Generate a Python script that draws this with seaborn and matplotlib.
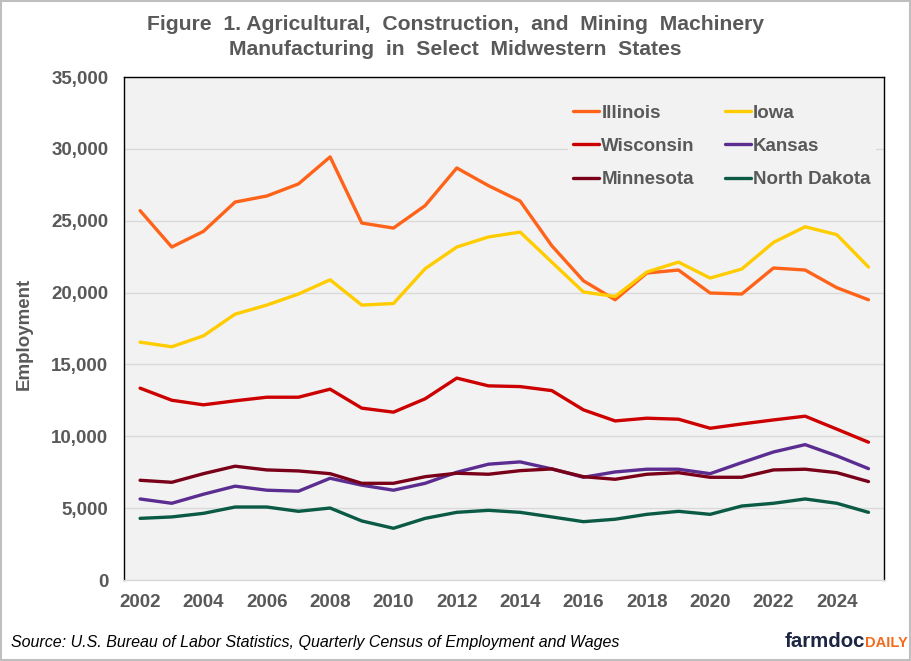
import numpy as np
import pandas as pd
import matplotlib
matplotlib.use("Agg")
import matplotlib.pyplot as plt
import seaborn as sns
from matplotlib.patches import Rectangle

years = list(range(2002, 2026))
illinois = [25700, 23170, 24260, 26300, 26720, 27560, 29440, 24840, 24490, 26050, 28670, 27440,
            26370, 23260, 20820, 19500, 21360, 21570, 19970, 19900, 21710, 21570, 20340, 19500]
iowa = [16550, 16230, 16990, 18500, 19130, 19900, 20890, 19130, 19240, 21660, 23170, 23870,
        24210, 22120, 20040, 19730, 21430, 22120, 21010, 21640, 23490, 24580, 24030, 21780]
wisconsin = [13350, 12510, 12190, 12470, 12720, 12720, 13280, 11960, 11680, 12610, 14050, 13510,
             13460, 13180, 11840, 11070, 11260, 11190, 10560, 10860, 11140, 11400, 10500, 9590]
kansas = [5640, 5340, 5970, 6530, 6250, 6180, 7080, 6600, 6250, 6730, 7500, 8060,
          8220, 7730, 7150, 7520, 7710, 7710, 7400, 8170, 8910, 9420, 8640, 7750]
minnesota = [6940, 6800, 7400, 7920, 7660, 7590, 7400, 6730, 6730, 7190, 7430, 7360,
             7610, 7730, 7190, 7010, 7360, 7470, 7150, 7150, 7660, 7710, 7470, 6850]
north_dakota = [4290, 4390, 4640, 5080, 5080, 4780, 5010, 4110, 3600, 4290, 4710, 4850,
                4710, 4390, 4060, 4230, 4570, 4780, 4570, 5150, 5340, 5640, 5340, 4710]

states = ["Illinois", "Iowa", "Wisconsin", "Kansas", "Minnesota", "North Dakota"]
colors = ["#FF6319", "#FFCC00", "#CC0000", "#5C2D91", "#7A0019", "#0B5A45"]
series = [illinois, iowa, wisconsin, kansas, minnesota, north_dakota]

df = pd.concat([pd.DataFrame({"Year": years, "Employment": s, "State": name})
                for name, s in zip(states, series)], ignore_index=True)

sns.set_theme(style="white")
plt.rcParams['font.family'] = ['Liberation Sans', 'DejaVu Sans']

gray = "#595959"
fig = plt.figure(figsize=(9.11, 6.61), dpi=100)
ax = fig.add_axes([0.1364, 0.1225, 0.8343, 0.761])
ax.set_facecolor("#F2F2F2")

sns.lineplot(data=df, x="Year", y="Employment", hue="State", hue_order=states,
             palette=dict(zip(states, colors)), linewidth=2.4, ax=ax, legend=True)

ax.set_xlim(2001.5, 2025.5)
ax.set_ylim(0, 35000)
ax.set_xticks(list(range(2002, 2026, 2)))
ax.set_yticks(range(0, 35001, 5000))
ax.set_yticklabels([f"{v:,}" for v in range(0, 35001, 5000)])
ax.yaxis.grid(True, color="#D9D9D9", linewidth=1.0)
ax.xaxis.grid(False)
ax.set_axisbelow(True)
ax.tick_params(axis="both", length=0, labelsize=13.5, labelcolor=gray)
ax.tick_params(axis="y", pad=11.5)
ax.tick_params(axis="x", pad=10)
for lab in ax.get_xticklabels() + ax.get_yticklabels():
    lab.set_fontweight("bold")

for side in ["top", "left", "right"]:
    ax.spines[side].set_color("black")
    ax.spines[side].set_linewidth(1.0)
    ax.spines[side].set_visible(True)
ax.spines["bottom"].set_color("#D9D9D9")
ax.spines["bottom"].set_linewidth(1.0)
ax.spines["bottom"].set_visible(True)

ax.set_xlabel("")
ax.set_ylabel("Employment", fontsize=13.5, fontweight="bold", color=gray)
ax.yaxis.set_label_coords(-0.1205, 0.49)

handles, labels = ax.get_legend_handles_labels()
hmap = dict(zip(labels, handles))
order = ["Illinois", "Wisconsin", "Minnesota", "Iowa", "Kansas", "North Dakota"]
leg = ax.legend([hmap[k] for k in order], order, ncol=2, loc="upper left",
                bbox_to_anchor=(0.571, 0.975),
                frameon=True, facecolor="#F2F2F2", edgecolor="none", framealpha=1.0,
                fontsize=13.5, handlelength=1.4, handletextpad=0.1, columnspacing=1.6,
                labelspacing=0.86, borderpad=0.3)
for t in leg.get_texts():
    t.set_fontweight("bold")
    t.set_color(gray)
for h in leg.get_lines():
    h.set_linewidth(2.4)

fig.text(0.5, 0.978, "Figure  1. Agricultural,  Construction,  and  Mining  Machinery\nManufacturing  in  Select  Midwestern  States",
         ha="center", va="top", fontsize=15.2, fontweight="bold", color=gray, linespacing=1.45)

fig.text(0.012, 0.021, "Source: U.S. Bureau of Labor Statistics, Quarterly Census of Employment and Wages",
         ha="left", va="baseline", fontsize=11.5, style="italic", color="black")

t1 = fig.text(0.861, 0.021, "farmdoc", ha="left", va="baseline", fontsize=14.7, fontweight="bold", color="#1C2541")
fig.canvas.draw()
bb = t1.get_window_extent()
x_end = bb.x1 / fig.bbox.width
fig.text(x_end + 0.0005, 0.021, "DAILY", ha="left", va="baseline", fontsize=10.5, fontweight="bold", color="#F26B1D")

fig.patches.append(Rectangle((0.001, 0.001), 0.998, 0.998, transform=fig.transFigure,
                             fill=False, edgecolor="#BFBFBF", linewidth=1.5))

fig.savefig("out.png", dpi=100)
